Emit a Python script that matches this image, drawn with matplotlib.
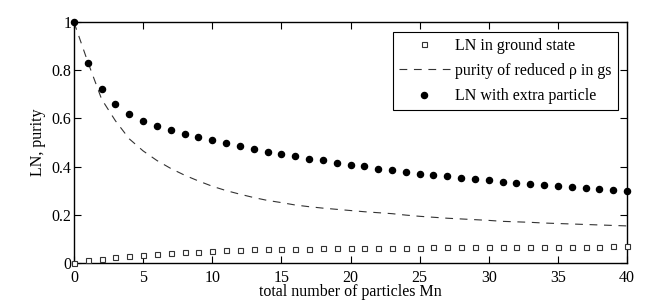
import matplotlib
matplotlib.use("Agg")
import matplotlib.pyplot as plt
import numpy as np

plt.rcParams['font.family'] = ['Liberation Serif', 'DejaVu Serif']
plt.rcParams['mathtext.fontset'] = 'stix'

n = list(range(0, 41))

ln_ground = [0.000, 0.010, 0.016, 0.024, 0.029, 0.034, 0.037, 0.040, 0.043, 0.046,
             0.049, 0.051, 0.053, 0.055, 0.056, 0.057, 0.058, 0.059, 0.060, 0.060,
             0.061, 0.061, 0.062, 0.062, 0.063, 0.063, 0.064, 0.064, 0.065, 0.065,
             0.065, 0.066, 0.066, 0.066, 0.066, 0.067, 0.067, 0.067, 0.067, 0.068,
             0.068]

purity = [1.000, 0.835, 0.680, 0.590, 0.515, 0.465, 0.425, 0.392, 0.364, 0.340,
          0.318, 0.300, 0.285, 0.271, 0.259, 0.250, 0.240, 0.233, 0.227, 0.222,
          0.217, 0.212, 0.208, 0.204, 0.198, 0.193, 0.189, 0.185, 0.182, 0.179,
          0.176, 0.172, 0.170, 0.168, 0.165, 0.163, 0.161, 0.159, 0.157, 0.155,
          0.153]

ln_extra = [1.000, 0.831, 0.724, 0.659, 0.617, 0.590, 0.569, 0.552, 0.537, 0.523,
            0.509, 0.497, 0.485, 0.473, 0.462, 0.453, 0.444, 0.433, 0.426, 0.416,
            0.406, 0.401, 0.391, 0.384, 0.377, 0.370, 0.365, 0.361, 0.354, 0.347,
            0.343, 0.337, 0.332, 0.327, 0.323, 0.320, 0.315, 0.309, 0.305, 0.302,
            0.300]

labels = ['LN in ground state', 'purity of reduced ρ in gs', 'LN with extra particle']
xticks = [0, 5, 10, 15, 20, 25, 30, 35, 40]
yticks = [0, 0.2, 0.4, 0.6, 0.8, 1]
yticklabels = ['0', '0.2', '0.4', '0.6', '0.8', '1']

fig = plt.figure(figsize=(6.64, 3.02), dpi=100)
ax = fig.add_axes([74/664, 1-262.7/302, (627-74)/664, (262.7-22.3)/302])

ax.plot(n, ln_ground, linestyle='none', marker='s', markersize=3.6,
        markerfacecolor='white', markeredgecolor='#333333', markeredgewidth=0.8,
        label=labels[0], clip_on=False, zorder=3)
ax.plot(n, purity, linestyle=(0, (7, 6)), color='#333333', linewidth=0.8,
        label=labels[1], zorder=2)
ax.plot(n, ln_extra, linestyle='none', marker='o', markersize=4.4,
        color='black', label=labels[2], clip_on=False, zorder=4)

ax.set_xlim(0, 40)
ax.set_ylim(0, 1)
ax.set_xticks(xticks)
ax.set_xticklabels([str(t) for t in xticks])
ax.set_yticks(yticks)
ax.set_yticklabels(yticklabels)
ax.tick_params(direction='in', length=5, width=0.8, top=True, right=True,
               labelsize=11.5, colors='black')
ax.tick_params(axis='x', pad=5)
ax.tick_params(axis='y', pad=2)
for s in ax.spines.values():
    s.set_linewidth(1.0)
    s.set_color('black')

ax.set_xlabel('total number of particles Mn', fontsize=11.5, labelpad=-1)
ax.set_ylabel('LN, purity', fontsize=11.5, labelpad=4)

leg = ax.legend(loc='upper right', bbox_to_anchor=((618-74)/553, (262.7-31.7)/240.4),
                borderaxespad=0, fontsize=11.5, frameon=True, fancybox=False,
                edgecolor='black', framealpha=1, handlelength=3.2,
                handletextpad=0.35, borderpad=0.38, labelspacing=0.58)
leg.get_frame().set_linewidth(0.8)

fig.savefig('out.png', dpi=100)
